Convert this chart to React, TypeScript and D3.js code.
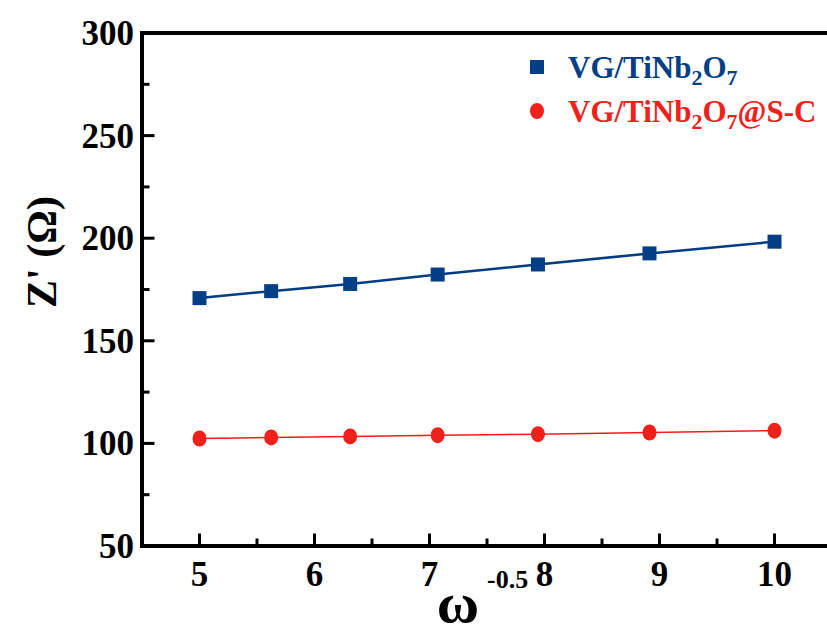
import React from "react";
import * as d3 from "d3";

// omega^-0.5 values
const xValues = [5, 5.623, 6.31, 7.071, 7.943, 8.913, 10];
const tinb = [170.8, 174.2, 177.7, 182.3, 187.2, 192.6, 198.3];
const tinbSC = [102.4, 102.9, 103.4, 104.0, 104.5, 105.3, 106.2];
const xTicks = [5, 6, 7, 8, 9, 10];
const yTicks = [50, 100, 150, 200, 250, 300];

const W = 827;
const H = 635;
const left = 142, top = 33, bottom = 546;

const App = () => {
  const x = d3.scaleLinear().domain([4.5, 10.5]).range([left, left + 6 * 115]);
  const y = d3.scaleLinear().domain([50, 300]).range([bottom, top]);

  const line = d3.line<number>()
    .x((d, i) => x(xValues[i]))
    .y(d => y(d));

  const xMinor = d3.range(5.5, 10.6, 1);
  const yMinor = d3.range(75, 300, 50);
  const font = "'Liberation Serif', 'Times New Roman', serif";

  return (
    <svg width={W} height={H} style={{position: "absolute", left: 0, top: 0}}>
      <rect width={W} height={H} fill="#fff" />
      {/* series */}
      <path d={line(tinb) || ""} fill="none" stroke="#003c84" strokeWidth={2.5} />
      <path d={line(tinbSC) || ""} fill="none" stroke="#ff1a1a" strokeWidth={1.5} />
      {tinb.map((v, i) => (
        <rect key={"b" + i} x={x(xValues[i]) - 7} y={y(v) - 7} width={14} height={14} fill="#033f86" />
      ))}
      {tinbSC.map((v, i) => (
        <ellipse key={"r" + i} cx={x(xValues[i])} cy={y(v)} rx={7} ry={8} fill="#f0201a" />
      ))}

      {/* axes */}
      <g stroke="#000" strokeLinecap="square">
        <line x1={left} y1={top} x2={W + 5} y2={top} strokeWidth={4} />
        <line x1={left} y1={top} x2={left} y2={bottom} strokeWidth={4} />
        <line x1={left} y1={bottom} x2={W + 5} y2={bottom} strokeWidth={4} />
        {xTicks.map(t => (
          <line key={"xt" + t} x1={x(t)} x2={x(t)} y1={bottom} y2={bottom - 11} strokeWidth={3} />
        ))}
        {xMinor.map(t => (
          <line key={"xm" + t} x1={x(t)} x2={x(t)} y1={bottom} y2={bottom - 6} strokeWidth={3} />
        ))}
        {yTicks.map(t => (
          <line key={"yt" + t} x1={left} x2={left + 11} y1={y(t)} y2={y(t)} strokeWidth={3} />
        ))}
        {yMinor.map(t => (
          <line key={"ym" + t} x1={left} x2={left + 6} y1={y(t)} y2={y(t)} strokeWidth={3} />
        ))}
      </g>

      <g fontFamily={font} fontWeight="bold" fontSize={35} fill="#000">
        {xTicks.map(t => (
          <text key={"xl" + t} x={x(t)} y={bottom + 40} textAnchor="middle">{t}</text>
        ))}
        {yTicks.map(t => (
          <text key={"yl" + t} x={left - 8} y={y(t) + 12} textAnchor="end">{t}</text>
        ))}
      </g>

      {/* axis titles */}
      <text x={458} y={622} fontFamily={font} fontWeight="bold" fontSize={58} textAnchor="middle">ω</text>
      <text x={487} y={588} fontFamily={font} fontWeight="bold" fontSize={26}>-0.5</text>
      <text transform={`translate(56,252) rotate(-90)`} fontFamily={font} fontWeight="bold" fontSize={42} textAnchor="middle">
        Z' (Ω)
      </text>

      {/* legend */}
      <g fontFamily={font} fontWeight="bold" fontSize={31}>
        <rect x={530} y={60} width={14} height={14} fill="#033f86" />
        <text x={568} y={78} fill="#023f87">
          VG/TiNb<tspan fontSize={22} dy={7}>2</tspan><tspan dy={-7}>O</tspan><tspan fontSize={22} dy={7}>7</tspan>
        </text>
        <ellipse cx={537} cy={111} rx={7} ry={8} fill="#f0201a" />
        <text x={568} y={122} fill="#f0201a">
          VG/TiNb<tspan fontSize={22} dy={7}>2</tspan><tspan dy={-7}>O</tspan><tspan fontSize={22} dy={7}>7</tspan><tspan dy={-7}>@S-C</tspan>
        </text>
      </g>
    </svg>
  );
};

export default App;
